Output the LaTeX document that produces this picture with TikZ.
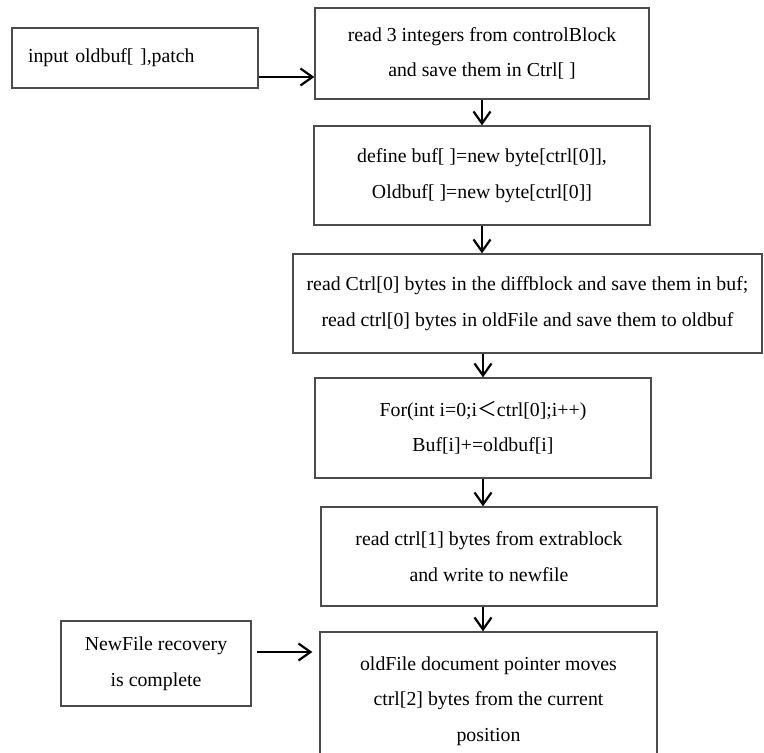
\documentclass[tikz,border=0pt]{standalone}
\usepackage{fontspec}
\setmainfont{Liberation Serif}
\newfontfamily\cjk{Noto Sans CJK SC}
\usetikzlibrary{arrows.meta}
\tikzset{
  stepbox/.style={draw=black!70, line width=1.3pt, align=center, inner sep=0pt,
    font=\fontsize{19.8}{35.5}\selectfont},
  flow/.style={-{Straight Barb[length=12pt,width=17pt,line width=2.2pt]}, line width=2pt}
}

\begin{document}
\begin{tikzpicture}[x=1pt,y=-1pt]
				\clip (0,0) rectangle (764,753);
				\fill[white] (0,0) rectangle (764,753);
				
				\node[stepbox, align=left, text width=214pt, inner xsep=16pt, minimum height=60pt] (input) at (135,58) {input oldbuf[ ],patch};
				\node[stepbox, minimum width=334pt, minimum height=91pt] (ctrl) at (482,53.5) {read 3 integers from controlBlock\\and save them in Ctrl[ ]};
				\node[stepbox, minimum width=336pt, minimum height=99pt] (define) at (482,175.5) {define buf[ ]=new byte[ctrl[0]],\\Oldbuf[ ]=new byte[ctrl[0]]};
				\node[stepbox, minimum width=469pt, minimum height=99pt] (diff) at (527.5,303.5) {read Ctrl[0] bytes in the diffblock and save them in buf;\\read ctrl[0] bytes in oldFile and save them to oldbuf};
				\node[stepbox, minimum width=336pt, minimum height=100pt] (for) at (483,428) {For(int i=0;i{\cjk ＜}ctrl[0];i++)\\Buf[i]+=oldbuf[i]};
				\node[stepbox, minimum width=336pt, minimum height=99pt] (extra) at (489,556.5) {read ctrl[1] bytes from extrablock\\and write to newfile};
				\node[stepbox, minimum width=190pt, minimum height=85pt] (done) at (156,663.5) {NewFile recovery\\is complete};
				\node[stepbox, minimum width=337pt, minimum height=138pt] (pointer) at (488.5,701) {oldFile document pointer moves\\ctrl[2] bytes from the current\\position};
				
				\draw[flow] ([yshift=-19pt]input.east) -- ([yshift=-19pt]input.east -| ctrl.west);
				\draw[flow] (ctrl.south) -- (ctrl.south |- define.north);
				\draw[flow] (define.south) -- (define.south |- diff.north);
				\draw[flow] (for.north |- diff.south) -- (for.north);
				\draw[flow] (for.south) -- (for.south |- extra.north);
				\draw[flow] (extra.south -| for.south) -- (for.south |- pointer.north);
				\draw[flow, shorten <=5pt, shorten >=7pt] ([yshift=11.5pt]done.east) -- ([yshift=11.5pt]done.east -| pointer.west);
			\end{tikzpicture}
\end{document}
